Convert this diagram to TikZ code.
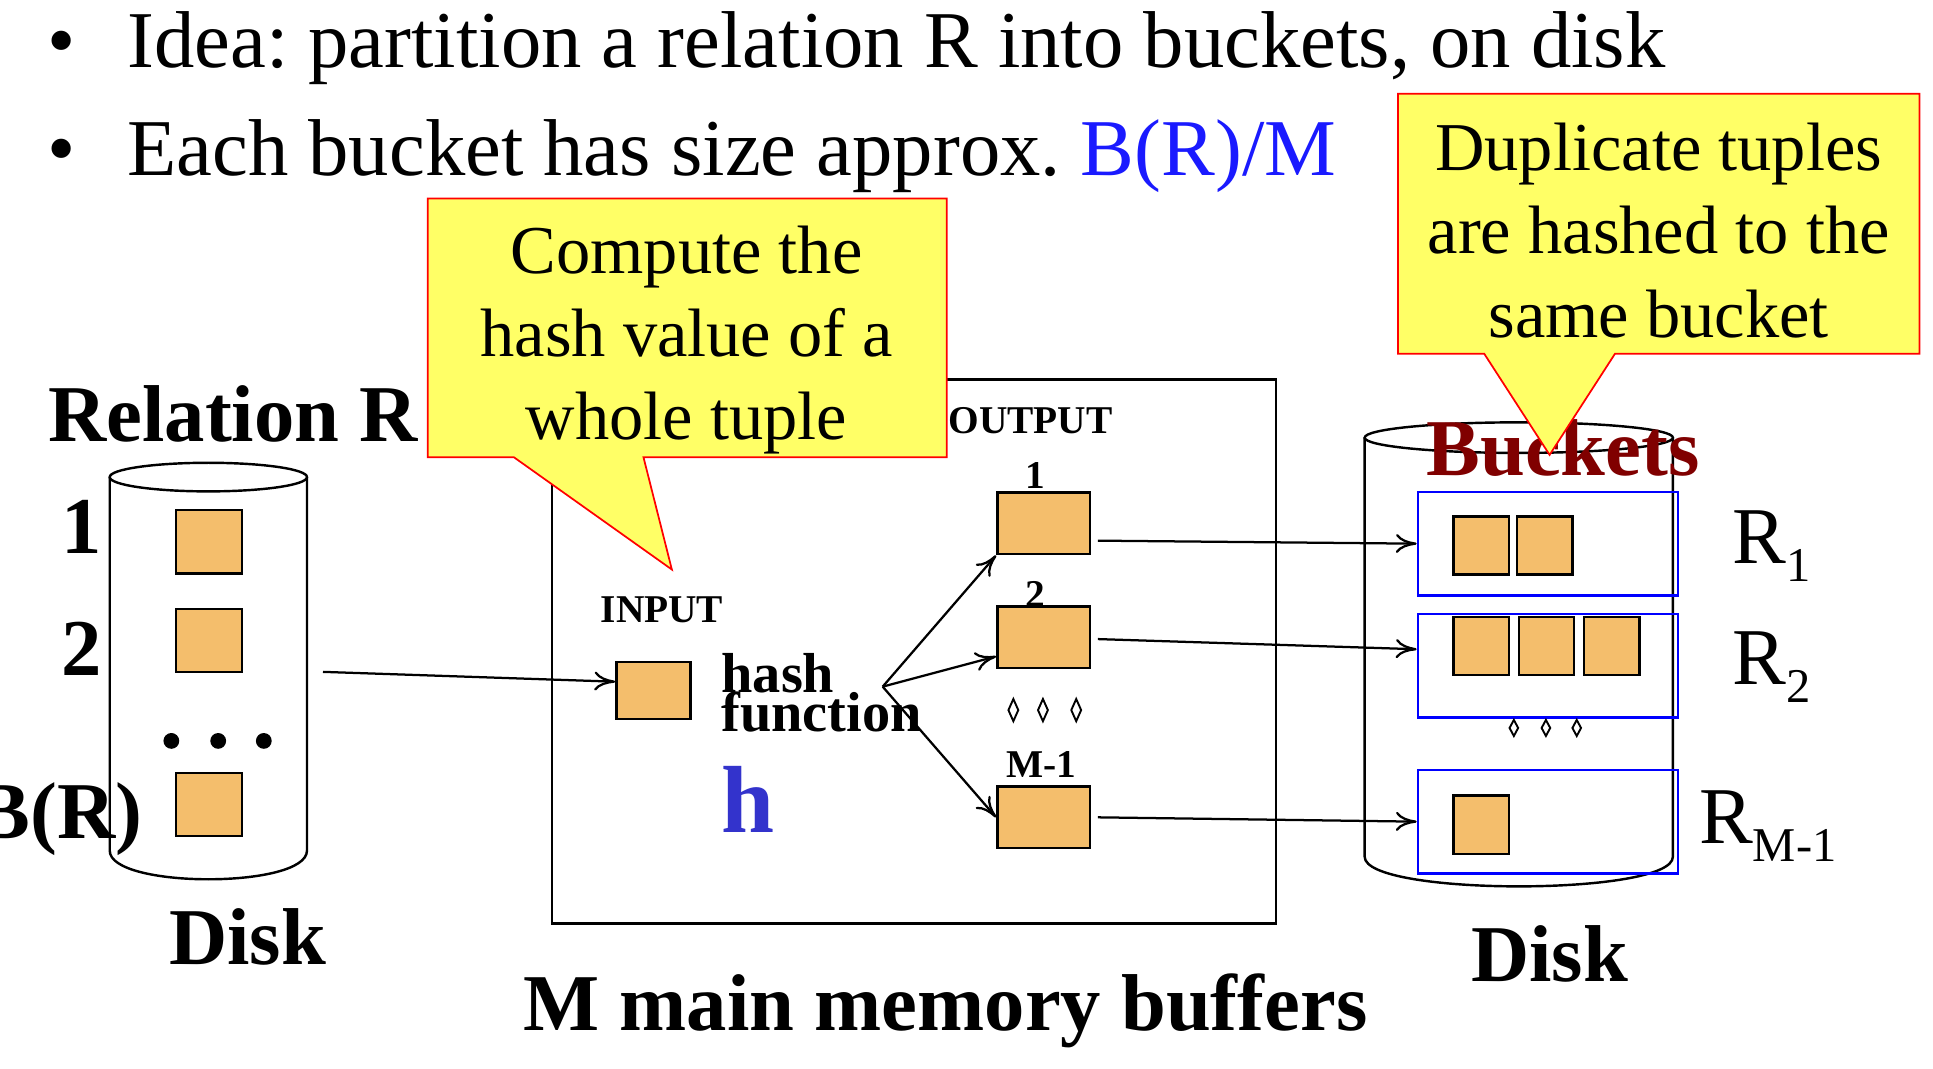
\documentclass[tikz,border=0pt]{standalone}
\usepackage{fontspec}
\setmainfont{Liberation Serif}
\usepackage{xcolor}
\usetikzlibrary{arrows.meta}
\frenchspacing

\definecolor{pageorange}{RGB}{244,190,108}
\definecolor{noteyellow}{RGB}{255,255,102}
\definecolor{hashblue}{RGB}{51,51,204}
\definecolor{sizeblue}{RGB}{26,26,255}
\definecolor{bucketred}{RGB}{128,0,0}

\newcommand{\lowsub}[1]{\raisebox{-10.7pt}{\fontsize{28}{28}\selectfont #1}}

\begin{document}
\begin{tikzpicture}[
        x=0.025cm, y=-0.025cm,
        >={To[length=12pt,width=11pt]},
        bigtext/.style={inner sep=0pt, font=\fontsize{46.5}{56}\selectfont},
        boldtext/.style={inner sep=0pt, font=\fontsize{46.5}{56}\selectfont\bfseries},
        smalltag/.style={inner sep=0pt, font=\fontsize{22.7}{27}\selectfont\bfseries},
        hashtext/.style={inner sep=0pt, font=\fontsize{32.5}{30}\selectfont\bfseries},
        notetext/.style={inner sep=0pt, align=center, font=\fontsize{39.5}{48}\selectfont},
        note/.style={draw=red, line width=1pt, fill=noteyellow, line join=miter},
        disk/.style={line width=1.4pt},
        page/.style={rectangle, draw=black, line width=1.4pt, fill=pageorange, inner sep=0pt},
        diskpage/.style={page, minimum width=1.33cm, minimum height=1.28cm},
        inpage/.style={page, minimum width=1.5cm, minimum height=1.15cm},
        outpage/.style={page, minimum width=1.875cm, minimum height=1.25cm},
        bktpage/.style={page, minimum width=1.12cm, minimum height=1.18cm},
        bucketbox/.style={rectangle, draw=blue, line width=1.3pt, minimum width=5.27cm, minimum height=2.1cm, inner sep=0pt},
        gem/.style={line width=1.1pt},
        link/.style={->, line width=1.3pt}
    ]
    \useasboundingbox (0,0) rectangle (1568,867);

    % Bullet lines
    \node[bigtext, anchor=base] (dotA) at (50,55) {\textbullet};
    \node[bigtext, anchor=base west] (idea) at (103,55) {Idea: partition a relation R into buckets, on disk};
    \node[bigtext, anchor=base] (dotB) at (50,142) {\textbullet};
    \node[bigtext, anchor=base west] (size) at (103,142) {Each bucket has size approx. \textcolor{sizeblue}{B(R)/M}};

    % Relation R on disk
    \node[boldtext, anchor=base west] (relname) at (39,358) {Relation R};
    \draw[disk] (89,387) -- (89,690) .. controls (89,721) and (249,721) .. (249,690) -- (249,387);
    \draw[disk] (169,387) ellipse [x radius=2cm, y radius=0.29cm];
    \node[diskpage] (pageA) at (169.5,439.5) {};
    \node[diskpage] (pageB) at (169.5,519.5) {};
    \node[diskpage] (pageC) at (169.5,652.5) {};
    \foreach \dx in {139,177,214}
        \fill (\dx,601) circle [radius=0.16cm];
    \node[boldtext, anchor=base] (numA) at (66,449) {1};
    \node[boldtext, anchor=base] (numB) at (66,548) {2};
    \node[boldtext, anchor=base east] (numC) at (116,680) {B(R)};
    \node[boldtext, anchor=base] (leftdisk) at (201,782) {Disk};

    % Main memory buffers
    \node[rectangle, draw=black, line width=1.4pt, minimum width=14.675cm, minimum height=11.025cm, inner sep=0pt] (membox) at (741.5,528.5) {};
    \node[boldtext, anchor=base] (memname) at (767,836) {M main memory buffers};
    \node[smalltag, anchor=base] (intag) at (537,505) {INPUT};
    \node[inpage] (inpage) at (530,560) {};
    \node[hashtext, anchor=base west] (hashword) at (585,562) {hash};
    \node[hashtext, anchor=base west] (funcword) at (585,593) {function};
    \node[inner sep=0pt, anchor=base west, font=\fontsize{55}{60}\selectfont\bfseries, text=hashblue] (hname) at (585,675) {h};
    \coordinate (hashpt) at (716,557);

    \node[smalltag, anchor=base] (outtag) at (836,352) {OUTPUT};
    \node[outpage] (outA) at (846.5,424.5) {};
    \node[outpage] (outB) at (846.5,517) {};
    \node[outpage] (outM) at (846.5,663) {};
    \node[smalltag, anchor=base] (outnumA) at (840,396) {1};
    \node[smalltag, anchor=base] (outnumB) at (840,493) {2};
    \node[smalltag, anchor=base] (outnumM) at (845,631) {M-1};
    \foreach \dx in {822,846,873}
        \draw[gem] (\dx,567) -- (\dx+4,576) -- (\dx,585) -- (\dx-4,576) -- cycle;

    % Buckets on disk
    \draw[disk] (1107,355) -- (1107,695) .. controls (1107,727) and (1357,727) .. (1357,695) -- (1357,355);
    \draw[disk] (1232,355) ellipse [x radius=3.125cm, y radius=0.31cm];
    \node[bucketbox] (bucketA) at (1255.5,441) {};
    \node[bucketbox] (bucketB) at (1255.5,540) {};
    \node[bucketbox] (bucketM) at (1255.5,666.5) {};
    \node[bktpage] (bktA1) at (1201.5,442.5) {};
    \node[bktpage] (bktA2) at (1253,442.5) {};
    \node[bktpage] (bktB1) at (1201.5,524) {};
    \node[bktpage] (bktB2) at (1254.5,524) {};
    \node[bktpage] (bktB3) at (1307.5,524) {};
    \node[bktpage] (bktM1) at (1201.5,669) {};
    \foreach \dx in {1228,1254,1279}
        \draw[gem] (\dx,584) -- (\dx+3.5,590.5) -- (\dx,597) -- (\dx-3.5,590.5) -- cycle;
    \node[boldtext, anchor=base, text=bucketred] (bktname) at (1268,386) {Buckets};
    \node[bigtext, anchor=base west] (partA) at (1405,457) {R\lowsub{1}};
    \node[bigtext, anchor=base west] (partB) at (1405,555) {R\lowsub{2}};
    \node[bigtext, anchor=base west] (partM) at (1378,684) {R\lowsub{M-1}};
    \node[boldtext, anchor=base] (rightdisk) at (1257,796) {Disk};

    % Connections
    \draw[link] (262,545) -- ([yshift=5pt]inpage.west);
    \draw[link] (hashpt) -- (outA.south west);
    \draw[link] (hashpt) -- ([yshift=-11pt]outB.west);
    \draw[link] (hashpt) -- (outM.west);
    \draw[link] ([xshift=4pt,yshift=-10pt]outA.east) -- (bucketA.west);
    \draw[link] ([xshift=4pt,yshift=-1pt]outB.east) -- ([yshift=9.5pt]bucketB.west);
    \draw[link] ([xshift=4pt]outM.east) -- (bucketM.west);

    % Callouts
    \draw[note] (347,161) -- (768,161) -- (768,371) -- (522,371) -- (545,462) -- (417,371) -- (347,371) -- cycle;
    \node[notetext] (hashnote) at (557,276) {Compute the\\hash value of a\\whole tuple};
    \draw[note] (1134,76) -- (1557,76) -- (1557,287) -- (1310,287) -- (1257,369) -- (1204,287) -- (1134,287) -- cycle;
    \node[notetext] (dupnote) at (1345.5,187) {Duplicate tuples\\are hashed to the\\same bucket};
\end{tikzpicture}
\end{document}
